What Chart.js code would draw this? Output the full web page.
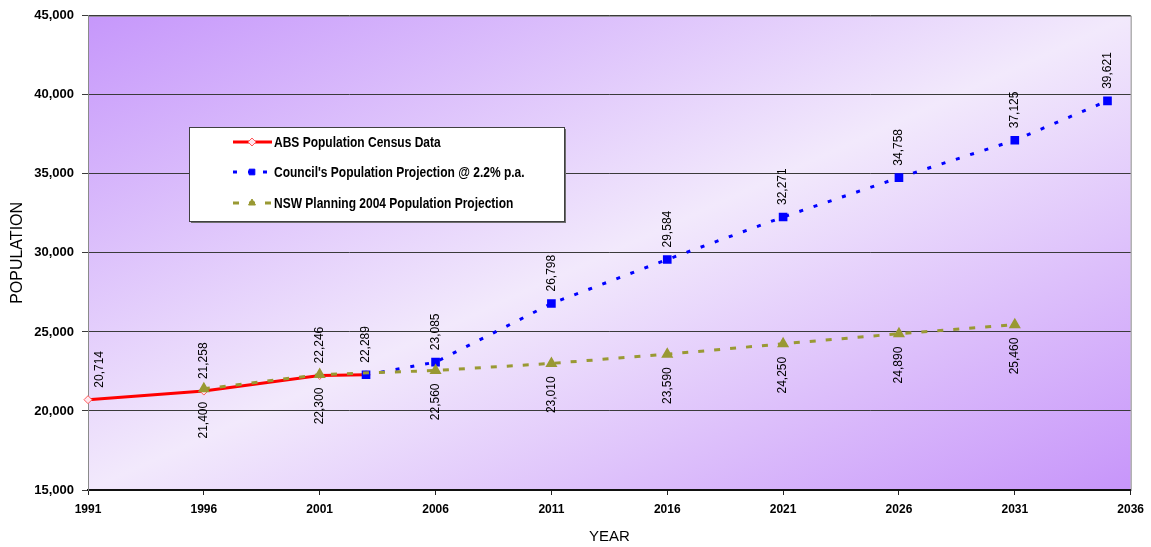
<!DOCTYPE html>
<html>
<head>
<meta charset="utf-8">
<script src="https://cdn.jsdelivr.net/npm/chart.js@4.4.0/dist/chart.umd.min.js"></script>
<style>
  html, body { margin: 0; padding: 0; background: #fff; }
  #wrap { width: 1151px; height: 547px; position: relative; }
</style>
</head>
<body>
<div id="wrap"><canvas id="popChart"></canvas></div>
<script>
// ABS census data
var absYears = [1991, 1996, 2001, 2003];
var absValues = [20714, 21258, 22246, 22289];
// Council projection @ 2.2% p.a.
var councilYears = [2003, 2006, 2011, 2016, 2021, 2026, 2031, 2035];
var councilValues = [22289, 23085, 26798, 29584, 32271, 34758, 37125, 39621];
// NSW Planning 2004 projection
var nswYears = [1996, 2001, 2006, 2011, 2016, 2021, 2026, 2031];
var nswValues = [21400, 22300, 22560, 23010, 23590, 24250, 24890, 25460];

var seriesNames = ['ABS Population Census Data', "Council's Population Projection @ 2.2% p.a.", 'NSW Planning 2004 Population Projection'];

function toPoints(xs, ys) {
    return xs.map(function(x, i) { return {x: x, y: ys[i]}; });
}

var mainFont = "'Liberation Sans', Arial, sans-serif";

// plot area fill: diagonal purple -> light -> purple
var plotBackground = {
    id: 'plotBackground',
    beforeDraw: function(chart) {
        var a = chart.chartArea, ctx = chart.ctx;
        ctx.save();
        ctx.translate(a.left, a.top);
        ctx.scale(a.right - a.left, a.bottom - a.top);
        var g = ctx.createLinearGradient(0, 0, 1, 1);
        g.addColorStop(0, '#c697fb');
        g.addColorStop(0.5, '#f2e9fc');
        g.addColorStop(1, '#c795fa');
        ctx.fillStyle = g;
        ctx.fillRect(0, 0, 1, 1);
        ctx.restore();
        ctx.save();
        ctx.strokeStyle = '#8a8a8a';
        ctx.lineWidth = 1;
        ctx.strokeRect(a.left + 0.5, a.top + 0.5, a.right - a.left, a.bottom - a.top);
        ctx.restore();
    }
};

// rotated value labels next to each point
var valueLabels = {
    id: 'valueLabels',
    afterDatasetsDraw: function(chart) {
        var ctx = chart.ctx, a = chart.chartArea;
        chart.data.datasets.forEach(function(ds, di) {
            var meta = chart.getDatasetMeta(di);
            meta.data.forEach(function(pt, i) {
                if (ds.skipLabels && ds.skipLabels.indexOf(i) >= 0) return;
                var txt = ds.data[i].y.toLocaleString('en-US');
                var x = Math.max(pt.x, a.left + 12);
                ctx.save();
                ctx.font = '12px ' + mainFont;
                ctx.fillStyle = '#000';
                ctx.translate(x, pt.y);
                ctx.rotate(-Math.PI / 2);
                ctx.textBaseline = 'middle';
                if (ds.labelSide === 'below') {
                    ctx.textAlign = 'right';
                    ctx.fillText(txt, -13, 0);
                } else {
                    ctx.textAlign = 'left';
                    ctx.fillText(txt, 12, 0);
                }
                ctx.restore();
            });
        });
    }
};

// boxed legend inside the plot
var boxLegend = {
    id: 'boxLegend',
    afterDraw: function(chart) {
        var ctx = chart.ctx;
        var bx = 189, by = 127, bw = 375, bh = 94;
        ctx.save();
        ctx.fillStyle = '#6e6e6e';
        ctx.fillRect(bx + 2, by + 2, bw, bh);
        ctx.fillStyle = '#fff';
        ctx.fillRect(bx, by, bw, bh);
        ctx.strokeStyle = '#404040';
        ctx.lineWidth = 1;
        ctx.strokeRect(bx + 0.5, by + 0.5, bw, bh);
        var rows = [142, 172, 203];
        chart.data.datasets.forEach(function(ds, i) {
            var y = rows[i];
            ctx.save();
            ctx.strokeStyle = ds.borderColor;
            ctx.lineWidth = ds.borderWidth;
            ctx.setLineDash(ds.borderDash || []);
            ctx.beginPath();
            ctx.moveTo(233, y);
            ctx.lineTo(272, y);
            ctx.stroke();
            ctx.restore();
            ctx.save();
            ctx.fillStyle = ds.pointBackgroundColor;
            ctx.strokeStyle = ds.pointBorderColor;
            ctx.lineWidth = ds.pointBorderWidth || 1;
            Chart.helpers.drawPoint(ctx, {
                pointStyle: ds.pointStyle,
                radius: ds.pointRadius,
                borderWidth: ds.pointBorderWidth || 1,
                rotation: 0
            }, 252, y);
            ctx.restore();
            ctx.save();
            ctx.fillStyle = '#000';
            ctx.font = 'bold 15px ' + mainFont;
            ctx.textBaseline = 'middle';
            ctx.textAlign = 'left';
            ctx.translate(274, y + 1);
            ctx.scale(0.8, 1);
            ctx.fillText(ds.label, 0, 0);
            ctx.restore();
        });
        ctx.restore();
    }
};

var chartConfig = {
    type: 'line',
    data: {
        datasets: [{
            label: seriesNames[0],
            data: toPoints(absYears, absValues),
            borderColor: '#ff0000',
            borderWidth: 3,
            pointStyle: 'rectRot',
            pointRadius: 4,
            pointBackgroundColor: '#ffe6ee',
            pointBorderColor: '#ff5a5a',
            pointBorderWidth: 1,
            labelSide: 'above',
            clip: 6,
            order: 2
        }, {
            label: seriesNames[1],
            data: toPoints(councilYears, councilValues),
            borderColor: '#0000ff',
            borderWidth: 3,
            borderDash: [4, 11],
            pointStyle: 'rect',
            pointRadius: 4,
            pointBackgroundColor: '#0000ff',
            pointBorderColor: '#0000ff',
            labelSide: 'above',
            skipLabels: [0],
            order: 1
        }, {
            label: seriesNames[2],
            data: toPoints(nswYears, nswValues),
            borderColor: '#999933',
            borderWidth: 3,
            borderDash: [6, 10],
            pointStyle: 'triangle',
            pointRadius: 4,
            pointBackgroundColor: '#999933',
            pointBorderColor: '#999933',
            labelSide: 'below',
            order: 0
        }]
    },
    options: {
        responsive: true,
        maintainAspectRatio: false,
        animation: false,
        layout: { padding: { top: 14, right: 20, left: 0, bottom: 0 } },
        plugins: {
            legend: { display: false },
            tooltip: { enabled: false }
        },
        elements: { line: { tension: 0 } },
        scales: {
            x: {
                type: 'linear',
                min: 1991,
                max: 2036,
                afterFit: function(scale) { scale.height = 57; },
                ticks: {
                    stepSize: 5,
                    padding: 7,
                    maxRotation: 0,
                    color: '#000',
                    font: { family: mainFont, size: 12, weight: 'bold' },
                    callback: function(v) { return String(v); }
                },
                grid: { drawOnChartArea: false, color: '#222', tickLength: 5 },
                border: { color: '#111', width: 2 },
                title: {
                    display: true,
                    text: 'YEAR',
                    color: '#000',
                    font: { family: mainFont, size: 15 },
                    padding: { top: 0, bottom: 1 }
                }
            },
            y: {
                min: 15000,
                max: 45000,
                afterFit: function(scale) { scale.width = 88; },
                ticks: {
                    stepSize: 5000,
                    padding: 8,
                    color: '#000',
                    font: { family: mainFont, size: 13, weight: 'bold' },
                    callback: function(v) { return v.toLocaleString('en-US'); }
                },
                grid: { color: '#3a3a3a', tickLength: 6 },
                border: { color: '#8a8a8a', width: 1 },
                title: {
                    display: true,
                    text: 'POPULATION',
                    color: '#000',
                    font: { family: mainFont, size: 16 },
                    padding: { top: 8, bottom: 0 }
                }
            }
        }
    },
    plugins: [plotBackground, valueLabels, boxLegend]
};

new Chart(document.getElementById('popChart'), chartConfig);
</script>
</body>
</html>
